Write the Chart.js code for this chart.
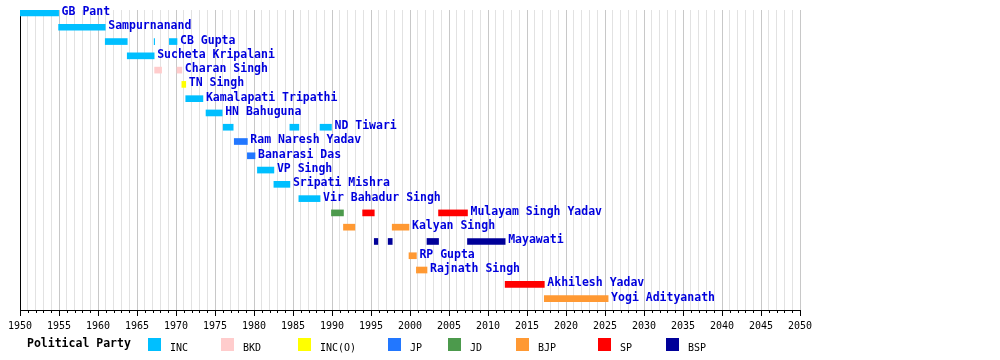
<!DOCTYPE html>
<html>
<head>
<meta charset="utf-8">
<script src="https://cdn.jsdelivr.net/npm/chart.js@4"></script>
<style>
  body { margin: 0; background: #fff; }
  #wrap { width: 1000px; height: 360px; }
</style>
</head>
<body>
<div id="wrap"><canvas id="ChartCM" width="1000" height="360"></canvas></div>
<script>
// chief ministers, top row first
const ministers = ['GB Pant', 'Sampurnanand', 'CB Gupta', 'Sucheta Kripalani', 'Charan Singh', 'TN Singh',
    'Kamalapati Tripathi', 'HN Bahuguna', 'ND Tiwari', 'Ram Naresh Yadav', 'Banarasi Das', 'VP Singh',
    'Sripati Mishra', 'Vir Bahadur Singh', 'Mulayam Singh Yadav', 'Kalyan Singh', 'Mayawati', 'RP Gupta',
    'Rajnath Singh', 'Akhilesh Yadav', 'Yogi Adityanath'];

// terms per party: [minister, start year, end year]
const termsINC = [
    ['GB Pant', 1950.0, 1954.95], ['Sampurnanand', 1954.95, 1960.93],
    ['CB Gupta', 1960.93, 1963.75], ['CB Gupta', 1967.2, 1967.26], ['CB Gupta', 1969.15, 1970.13],
    ['Sucheta Kripalani', 1963.75, 1967.2], ['Kamalapati Tripathi', 1971.25, 1973.45],
    ['HN Bahuguna', 1973.85, 1975.92], ['ND Tiwari', 1976.05, 1977.33], ['ND Tiwari', 1984.6, 1985.75],
    ['ND Tiwari', 1988.47, 1989.93], ['VP Singh', 1980.44, 1982.55], ['Sripati Mishra', 1982.55, 1984.6],
    ['Vir Bahadur Singh', 1985.75, 1988.47]
];
const termsBKD = [['Charan Singh', 1967.26, 1968.15], ['Charan Singh', 1970.13, 1970.75]];
const termsINCO = [['TN Singh', 1970.75, 1971.25]];
const termsJP = [['Ram Naresh Yadav', 1977.47, 1979.15], ['Banarasi Das', 1979.15, 1980.13]];
const termsJD = [['Mulayam Singh Yadav', 1989.93, 1991.47]];
const termsBJP = [
    ['Kalyan Singh', 1991.47, 1992.93], ['Kalyan Singh', 1997.72, 1999.87],
    ['RP Gupta', 1999.87, 2000.82], ['Rajnath Singh', 2000.82, 2002.18],
    ['Yogi Adityanath', 2017.22, 2025.4]
];
const termsSP = [
    ['Mulayam Singh Yadav', 1993.93, 1995.42], ['Mulayam Singh Yadav', 2003.66, 2007.37],
    ['Akhilesh Yadav', 2012.2, 2017.22]
];
const termsBSP = [
    ['Mayawati', 1995.42, 1995.88], ['Mayawati', 1997.2, 1997.72],
    ['Mayawati', 2002.18, 2003.66], ['Mayawati', 2007.37, 2012.2]
];

const parties = ['INC', 'BKD', 'INC(O)', 'JP', 'JD', 'BJP', 'SP', 'BSP'];
const partyTerms = [termsINC, termsBKD, termsINCO, termsJP, termsJD, termsBJP, termsSP, termsBSP];
const yearMin = 1950;
const yearMax = 2050;

var colors = ['#00bfff', '#ffcccc', '#ffff00', '#2277ff', '#4c9a4c', '#ff9933', '#ff0000', '#000099'];

const datasets = parties.map(function (p, i) {
    return {
        label: p,
        data: partyTerms[i].map(function (t) {
            return { y: ministers.indexOf(t[0]), x: [t[1], t[2]] };
        }),
        backgroundColor: colors[i],
        borderWidth: 0,
        barThickness: 6,
        grouped: false
    };
});

// name after each minister's last bar
const nameLabels = {
    id: 'nameLabels',
    afterDatasetsDraw(chart) {
        const ctx = chart.ctx;
        const xs = chart.scales.x, ys = chart.scales.y;
        ctx.save();
        ctx.font = 'bold 11.5px "DejaVu Sans Mono"';
        ctx.fillStyle = '#0000dd';
        ctx.textBaseline = 'middle';
        ministers.forEach(function (name, row) {
            let last = -Infinity;
            partyTerms.forEach(function (list) {
                list.forEach(function (t) { if (t[0] === name && t[2] > last) last = t[2]; });
            });
            ctx.fillText(name, xs.getPixelForValue(last) + 3, ys.getPixelForValue(row) - 1);
        });
        ctx.restore();
    }
};

// year tick marks below the axis, long every 5 years
const yearTicks = {
    id: 'yearTicks',
    afterDraw(chart) {
        const ctx = chart.ctx;
        const xs = chart.scales.x;
        const bottom = chart.chartArea.bottom;
        ctx.save();
        ctx.strokeStyle = '#000';
        ctx.lineWidth = 1;
        ctx.beginPath();
        for (let yr = yearMin; yr <= yearMax; yr++) {
            const px = Math.round(xs.getPixelForValue(yr)) + 0.5;
            ctx.moveTo(px, bottom);
            ctx.lineTo(px, bottom + (yr % 5 === 0 ? 6 : 3));
        }
        ctx.stroke();
        ctx.restore();
    }
};

// party legend along the bottom
const partyLegend = {
    id: 'partyLegend',
    afterDraw(chart) {
        const ctx = chart.ctx;
        const xPos = [148, 221, 298, 388, 448, 516, 598, 666];
        ctx.save();
        ctx.fillStyle = '#000';
        ctx.textBaseline = 'alphabetic';
        ctx.font = 'bold 11.5px "DejaVu Sans Mono"';
        ctx.fillText('Political Party', 27, 347);
        ctx.font = '10px "DejaVu Sans Mono"';
        parties.forEach(function (p, i) {
            ctx.fillStyle = colors[i];
            ctx.fillRect(xPos[i], 338, 13, 13);
            ctx.fillStyle = '#000';
            ctx.fillText(p, xPos[i] + 22, 351);
        });
        ctx.restore();
    }
};

new Chart(document.getElementById('ChartCM'), {
    type: 'bar',
    data: { datasets: datasets },
    options: {
        indexAxis: 'y',
        responsive: false,
        animation: false,
        layout: { padding: { left: 20, right: 200, top: 10, bottom: 18 } },
        scales: {
            x: {
                type: 'linear',
                min: yearMin,
                max: yearMax,
                afterFit: function (scale) { scale.paddingLeft = 0; scale.paddingRight = 0; },
                ticks: {
                    stepSize: 1,
                    autoSkip: false,
                    maxRotation: 0,
                    padding: 10,
                    color: '#000',
                    font: { family: 'DejaVu Sans Mono', size: 10 },
                    callback: function (v) { return v % 5 === 0 ? String(v) : ''; }
                },
                grid: {
                    drawTicks: false,
                    color: function (c) { return c.tick && c.tick.value % 5 === 0 ? '#c8c8c8' : '#e2e2e2'; }
                },
                border: { color: '#000', width: 1 }
            },
            y: {
                type: 'linear',
                reverse: true,
                offset: false,
                min: -0.21,
                max: 20.8,
                afterFit: function (scale) { scale.width = 0; },
                ticks: { display: false },
                grid: { display: false },
                border: { color: '#000', width: 1 }
            }
        },
        plugins: {
            legend: { display: false },
            tooltip: { enabled: false }
        }
    },
    plugins: [nameLabels, yearTicks, partyLegend]
});
</script>
</body>
</html>
